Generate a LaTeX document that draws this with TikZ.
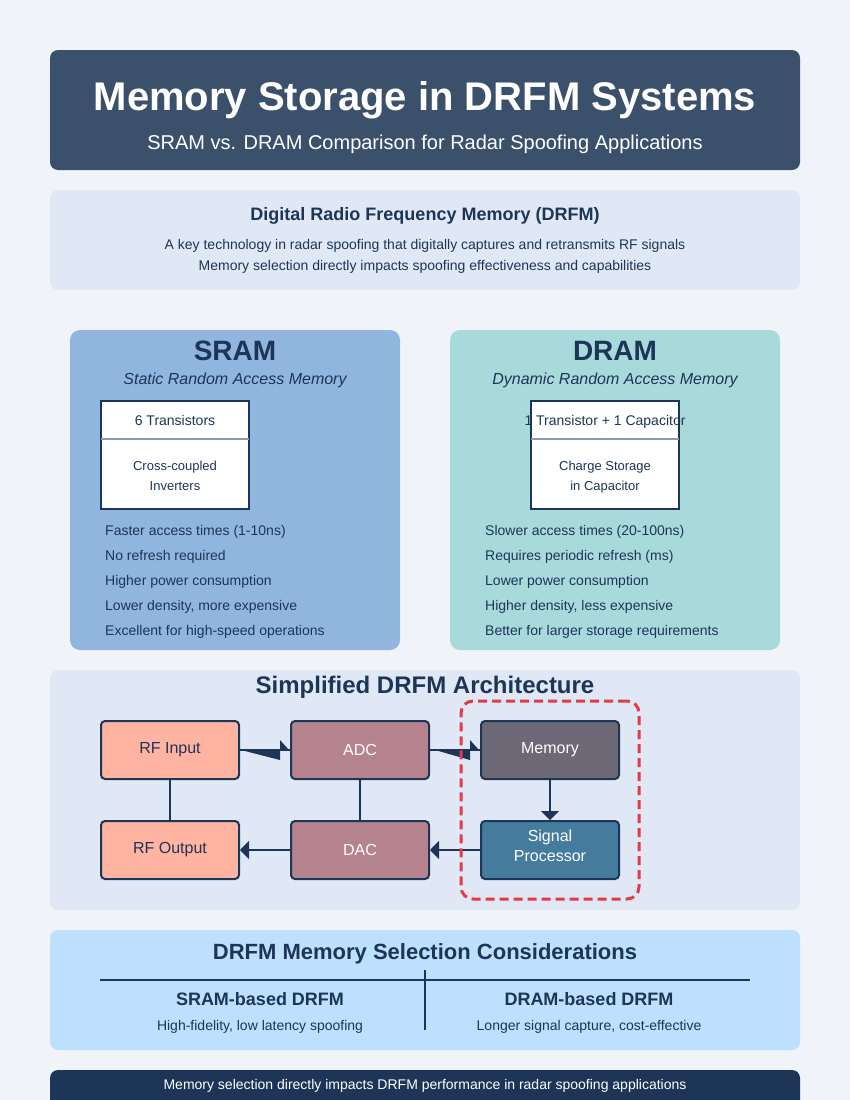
\documentclass[tikz,border=0pt]{standalone}
\usepackage{fontspec}
\setmainfont{Liberation Sans}
\usetikzlibrary{arrows.meta,calc}
\definecolor{bg}{HTML}{F0F4F8}
\definecolor{navy}{HTML}{1D3557}
\definecolor{hdr}{HTML}{3A506B}
\definecolor{soft}{HTML}{E0E8F5}
\definecolor{sramc}{HTML}{90B6E0}
\definecolor{dramc}{HTML}{A8DADC}
\definecolor{peach}{HTML}{FFB4A2}
\definecolor{mauve}{HTML}{B5838D}
\definecolor{memc}{HTML}{6D6875}
\definecolor{spc}{HTML}{457B9D}
\definecolor{redd}{HTML}{E63946}
\definecolor{consc}{HTML}{BDE0FE}
\definecolor{divc}{HTML}{8A9AB0}
\newcommand\fsz[2]{\fontsize{#1pt}{#2pt}\selectfont}
\tikzset{
  panel/.style={rectangle, rounded corners=8pt, draw=none, inner sep=0pt},
  txt/.style={inner sep=0pt, anchor=base, text=navy},
  bul/.style={inner sep=0pt, anchor=base west, text=navy, font=\fsz{14}{17}},
  cellbox/.style={rectangle, draw=navy, line width=2pt, fill=white, inner sep=0pt, minimum width=148pt, minimum height=108pt},
  blk/.style={rectangle, rounded corners=4pt, draw=navy, line width=2pt, minimum width=138pt, minimum height=58pt, font=\fsz{16}{20}, align=center, inner sep=0pt},
  arr/.style={navy, line width=2pt, -{Triangle[length=9pt,width=18pt]}},
  link/.style={navy, line width=2pt},
}
\begin{document}
\begin{tikzpicture}[x=1pt,y=-1pt]
\clip (0,0) rectangle (850,1100);
\fill[bg] (0,0) rectangle (850,1100);

% header
\node[panel, fill=hdr, minimum width=750pt, minimum height=120pt] (header) at (425,110) {};
\node[txt, text=white, font=\fsz{40}{48}\bfseries] (title) at (425,110) {Memory Storage in DRFM Systems};
\node[txt, text=white, font=\fsz{20}{24}] (subtitle) at (425,149) {SRAM vs. DRAM Comparison for Radar Spoofing Applications};

% intro
\node[panel, fill=soft, minimum width=750pt, minimum height=100pt] (intro) at (425,240) {};
\node[txt, font=\fsz{18}{22}\bfseries] (introt) at (425,220) {Digital Radio Frequency Memory (DRFM)};
\node[txt, font=\fsz{14}{17}] (intro1) at (425,249) {A key technology in radar spoofing that digitally captures and retransmits RF signals};
\node[txt, font=\fsz{14}{17}] (intro2) at (425,270) {Memory selection directly impacts spoofing effectiveness and capabilities};

% SRAM panel
\node[panel, rounded corners=10pt, fill=sramc, minimum width=330pt, minimum height=320pt] (sram) at (235,490) {};
\node[txt, font=\fsz{28}{32}\bfseries] (sramt) at (235,360) {SRAM};
\node[txt, font=\fsz{16}{19}\itshape] (srams) at (235,384) {Static Random Access Memory};
\node[cellbox] (sramcell) at (175,455) {};
\draw[divc, line width=2pt] ([xshift=1pt,yshift=16pt]sramcell.west) -- ([xshift=-1pt,yshift=16pt]sramcell.east);
\node[txt, font=\fsz{14}{17}] (sramc1) at (175,425) {6 Transistors};
\node[txt, font=\fsz{13}{16}] (sramc2) at (175,470) {Cross-coupled};
\node[txt, font=\fsz{13}{16}] (sramc3) at (175,490) {Inverters};
\node[bul] (sb1) at (105,535) {Faster access times (1-10ns)};
\node[bul] (sb2) at (105,560) {No refresh required};
\node[bul] (sb3) at (105,585) {Higher power consumption};
\node[bul] (sb4) at (105,610) {Lower density, more expensive};
\node[bul] (sb5) at (105,635) {Excellent for high-speed operations};

% DRAM panel
\node[panel, rounded corners=10pt, fill=dramc, minimum width=330pt, minimum height=320pt] (dram) at (615,490) {};
\node[txt, font=\fsz{28}{32}\bfseries] (dramt) at (615,360) {DRAM};
\node[txt, font=\fsz{16}{19}\itshape] (drams) at (615,384) {Dynamic Random Access Memory};
\node[cellbox] (dramcell) at (605,455) {};
\draw[divc, line width=2pt] ([xshift=1pt,yshift=16pt]dramcell.west) -- ([xshift=-1pt,yshift=16pt]dramcell.east);
\node[txt, font=\fsz{14}{17}] (dramc1) at (605,425) {1 Transistor + 1 Capacitor};
\node[txt, font=\fsz{13}{16}] (dramc2) at (605,470) {Charge Storage};
\node[txt, font=\fsz{13}{16}] (dramc3) at (605,490) {in Capacitor};
\node[bul] (db1) at (485,535) {Slower access times (20-100ns)};
\node[bul] (db2) at (485,560) {Requires periodic refresh (ms)};
\node[bul] (db3) at (485,585) {Lower power consumption};
\node[bul] (db4) at (485,610) {Higher density, less expensive};
\node[bul] (db5) at (485,635) {Better for larger storage requirements};

% architecture
\node[panel, fill=soft, minimum width=750pt, minimum height=240pt] (arch) at (425,790) {};
\node[txt, font=\fsz{24}{28}\bfseries] (archt) at (425,693) {Simplified DRFM Architecture};
\node[blk, fill=peach, text=navy] (rfin) at (170,750) {RF Input};
\node[blk, fill=mauve, text=white] (adc) at (360,750) {ADC};
\node[blk, fill=memc, text=white] (mem) at (550,750) {Memory};
\node[blk, fill=spc] (sp) at (550,850) {};
\node[txt, text=white, font=\fsz{16}{20}] (sp1) at (550,841) {Signal};
\node[txt, text=white, font=\fsz{16}{20}] (sp2) at (550,861) {Processor};
\node[blk, fill=mauve, text=white] (dac) at (360,850) {DAC};
\node[blk, fill=peach, text=navy] (rfout) at (170,850) {RF Output};

\draw[link] (rfin.south) -- (rfout.north);
\draw[link] (adc.south) -- (dac.north);
\draw[arr] (mem.south) -- (sp.north);
\draw[arr] (sp.west) -- (dac.east);
\draw[arr] (dac.west) -- (rfout.east);

% wedge-shaped arrows
\draw[link] (rfin.east) -- (adc.west);
\fill[navy] ([xshift=1pt]rfin.east) -- ([xshift=-10pt]adc.west) -- ([xshift=-10pt,yshift=-10pt]adc.west) -- cycle;
\fill[navy] ([xshift=-10pt,yshift=10pt]adc.west) -- ([xshift=-1pt]adc.west) -- ([xshift=-10pt]adc.west) -- cycle;
\draw[link] (adc.east) -- (mem.west);
\fill[navy] ([xshift=5pt]adc.east) -- ([xshift=-10pt]mem.west) -- ([xshift=-10pt,yshift=-10pt]mem.west) -- cycle;
\fill[navy] ([xshift=-10pt,yshift=10pt]mem.west) -- ([xshift=-1pt]mem.west) -- ([xshift=-10pt]mem.west) -- cycle;

\node[rectangle, draw=redd, line width=3pt, dash pattern=on 9pt off 5pt, rounded corners=12pt, minimum width=178pt, minimum height=198pt, inner sep=0pt] (memzone) at (550,800) {};

% considerations
\node[panel, fill=consc, minimum width=750pt, minimum height=120pt] (cons) at (425,990) {};
\node[txt, font=\fsz{22}{26}\bfseries] (const) at (425,959) {DRFM Memory Selection Considerations};
\coordinate (hl) at (100,980);
\coordinate (hr) at (750,980);
\coordinate (vt) at (425,970);
\coordinate (vb) at (425,1030);
\draw[link] (hl) -- (hr);
\draw[link] (vt) -- (vb);
\node[txt, font=\fsz{18}{22}\bfseries] (sramh) at (260,1005) {SRAM-based DRFM};
\node[txt, font=\fsz{14}{17}] (sramd) at (260,1030) {High-fidelity, low latency spoofing};
\node[txt, font=\fsz{18}{22}\bfseries] (dramh) at (589,1005) {DRAM-based DRFM};
\node[txt, font=\fsz{14}{17}] (dramd) at (589,1030) {Longer signal capture, cost-effective};

% footer
\node[panel, fill=navy, minimum width=750pt, minimum height=50pt] (footer) at (425,1095) {};
\node[txt, text=white, font=\fsz{14}{17}] (foott) at (425,1089) {Memory selection directly impacts DRFM performance in radar spoofing applications};
\end{tikzpicture}
\end{document}
